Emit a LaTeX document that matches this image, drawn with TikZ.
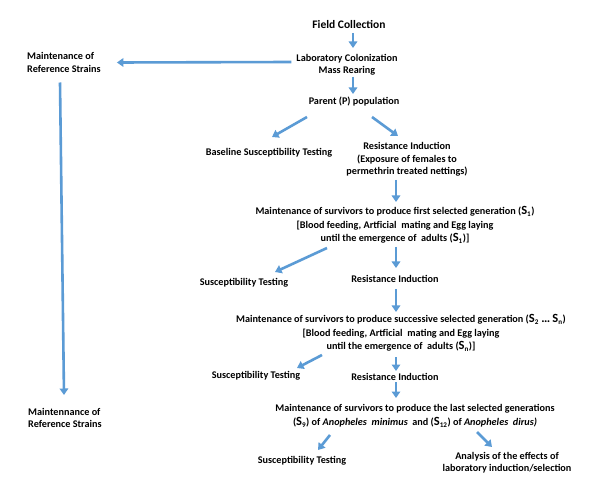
\documentclass[tikz,border=0pt]{standalone}
\usepackage{fontspec}
\setmainfont{Carlito}
\usetikzlibrary{arrows.meta,calc}
\definecolor{arrblue}{RGB}{91,155,213}
\newcommand{\bigS}{{\fontsize{12.5}{12.5}\selectfont S}}
\begin{document}
\begin{tikzpicture}[x=1pt,y=-1pt,
  lbl/.style={font=\bfseries\fontsize{10.2}{12.5}\selectfont, inner sep=0pt, align=center},
  lbll/.style={lbl, align=left, anchor=west},
  flow/.style={draw=arrblue, line width=2.6pt, -{Triangle[width=8.5pt,length=6.5pt]}}]
\useasboundingbox[fill=white] (0,0) rectangle (598,492);

\node[lbl, font=\bfseries\fontsize{11.5}{12}\selectfont] (fc) at (349,25) {Field Collection};
\node[lbl, font=\bfseries\fontsize{10.2}{12}\selectfont] (lc) at (347,65) {Laboratory Colonization\\Mass Rearing};
\node[lbll] (ms) at (27,62.5) {Maintenance of\\Reference Strains};
\node[lbll] (mn) at (28,418) {Maintennance of\\Reference Strains};
\node[lbl] (parent) at (354,102) {Parent (P) population};
\node[lbl] (base) at (269,153) {Baseline Susceptibility Testing};
\node[lbl] (ri1) at (407,159.5) {Resistance Induction\\(Exposure of females to\\permethrin treated nettings)};
\node[lbl] (m1) at (395,225) {Maintenance of survivors to produce first selected generation (\bigS\textsubscript{1})\\[1pt]
  [Blood feeding, Artficial\ \ mating and Egg laying\\[1pt]
  until the emergence of\ \ adults (\bigS\textsubscript{1})]};
\node[lbl] (st1) at (244,283) {Susceptibility Testing};
\node[lbl] (ri2) at (395,279) {Resistance Induction};
\node[lbl] (m2) at (401,333) {Maintenance of survivors to produce successive selected generation (\bigS\textsubscript{2} {\fontsize{12.5}{12.5}\selectfont\dots} \bigS\textsubscript{n})\\[1pt]
  [Blood feeding, Artficial\ \ mating and Egg laying\\[1pt]
  until the emergence of\ \ adults (\bigS\textsubscript{n})]};
\node[lbl] (st2) at (256,376) {Susceptibility Testing};
\node[lbl] (ri3) at (395,377) {Resistance Induction};
\node[lbl] (m3) at (415,416) {Maintenance of survivors to produce the last selected generations\\[1.5pt]
  (\bigS\textsubscript{9}) of \textit{Anopheles\ \ minimus}\ \ and (\bigS\textsubscript{12}) of \textit{Anopheles\ \ dirus)}};
\node[lbl] (st3) at (302,461) {Susceptibility Testing};
\node[lbl] (an) at (507,462.5) {Analysis of the effects of\\laboratory induction/selection};

\draw[flow] ($(fc)+(4,8)$) -- ($(lc)+(6,-17)$);
\draw[flow] ($(lc.west)+(-5,-3)$) -- ($(ms.east)+(16,0)$);
\draw[flow] ($(ms.west)+(33,20)$) -- ($(mn.west)+(36,-23)$);
\draw[flow] ($(lc)+(6,12)$) -- ($(parent)+(-1,-8)$);
\draw[flow] ($(parent)+(-47,15)$) -- ($(base)+(3,-16)$);
\draw[flow] ($(parent)+(18,15)$) -- ($(ri1)+(-9,-23.5)$);
\draw[flow] ($(ri1)+(-11,20.5)$) -- ($(m1)+(1,-23)$);
\draw[flow] ($(m1)+(-68,23)$) -- ($(st1)+(31,-11)$);
\draw[flow] ($(m1)+(1,22)$) -- ($(ri2)+(1,-11)$);
\draw[flow] ($(ri2)+(1,10)$) -- ($(m2)+(-5,-21)$);
\draw[flow] ($(m2)+(-79,22)$) -- ($(st2)+(41,-8)$);
\draw[flow] ($(m2)+(-5,24)$) -- ($(ri3)+(1,-6)$);
\draw[flow] ($(ri3)+(1,5)$) -- ($(m3)+(-19,-18)$);
\draw[flow] ($(m3)+(-85,19)$) -- ($(st3)+(16,-11)$);
\draw[flow] ($(m3)+(62,16)$) -- ($(an)+(-15,-15.5)$);
\end{tikzpicture}
\end{document}
